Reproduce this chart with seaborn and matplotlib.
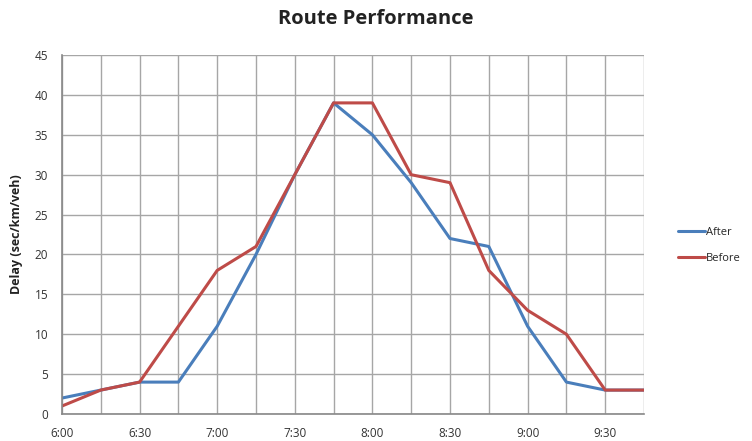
import matplotlib
matplotlib.use("Agg")
import matplotlib.pyplot as plt
import seaborn as sns
import pandas as pd

times = ["6:00", "6:15", "6:30", "6:45", "7:00", "7:15", "7:30", "7:45",
         "8:00", "8:15", "8:30", "8:45", "9:00", "9:15", "9:30", "9:45"]
after = [2, 3, 4, 4, 11, 20, 30, 39, 35, 29, 22, 21, 11, 4, 3, 3]
before = [1, 3, 4, 11, 18, 21, 30, 39, 39, 30, 29, 18, 13, 10, 3, 3]
series_names = ["After", "Before"]
colors = {"After": "#4A7EBB", "Before": "#BE4B48"}

sns.set_theme(style="white")
plt.rcParams["font.family"] = ["Open Sans", "DejaVu Sans"]

rows = []
for name, vals in zip(series_names, [after, before]):
    for i, (t, v) in enumerate(zip(times, vals)):
        rows.append({"pos": i, "time": t, "delay": v, "series": name})
df = pd.DataFrame(rows)

fig = plt.figure(figsize=(7.52, 4.41), dpi=100)
ax = fig.add_axes([0.0824, 0.0612, 0.774, 0.814])

sns.lineplot(data=df, x="pos", y="delay", hue="series", hue_order=series_names,
             palette=colors, linewidth=2.2, ax=ax, sort=False)

ax.set_xlim(0, len(times) - 1)
ax.set_ylim(0, 45)
ax.set_yticks(range(0, 46, 5))
ax.set_xticks(range(len(times)))
ax.set_xticklabels([t if i % 2 == 0 else "" for i, t in enumerate(times)])
ax.tick_params(axis="both", labelsize=8.5, colors="#333333", length=0)
ax.tick_params(axis="x", pad=9)
ax.tick_params(axis="y", pad=10)
ax.grid(True, color="#a6a6a6", linewidth=1.0)
ax.set_axisbelow(True)
for side in ["top", "right"]:
    ax.spines[side].set_visible(False)
for side in ["left", "bottom"]:
    ax.spines[side].set_color("#888888")
    ax.spines[side].set_linewidth(1.2)

ax.set_xlabel("")
ax.set_ylabel("Delay (sec/km/veh)", fontsize=9, fontweight="bold", color="#222222", labelpad=8)

fig.suptitle("Route Performance", x=0.5, y=0.98, fontsize=14.5, fontweight="bold", color="#222222")

leg = ax.legend(loc="center left", bbox_to_anchor=(1.045, 0.47), frameon=False,
                fontsize=8, handlelength=2.4, handletextpad=0.1, labelspacing=1.4,
                borderaxespad=0.3)

fig.savefig("out.png", dpi=100, facecolor="white")
